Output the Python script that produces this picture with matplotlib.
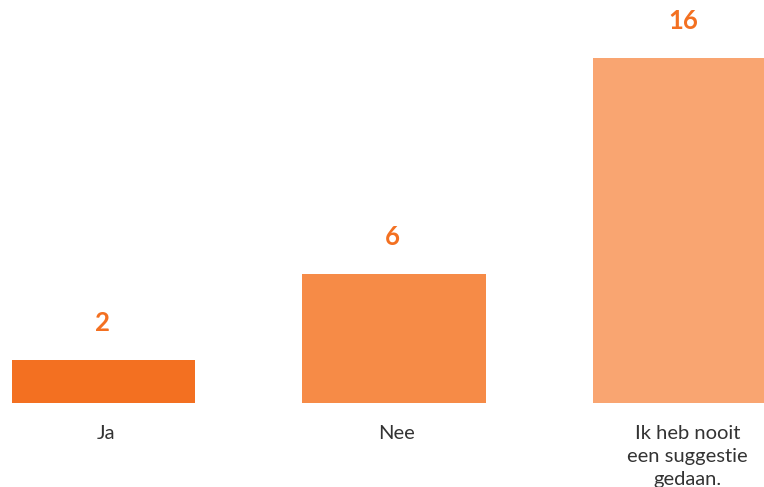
import matplotlib.pyplot as plt

categories = ['Ja', 'Nee', 'Ik heb nooit\neen suggestie\ngedaan.']
values = [2, 6, 16]
colors = ['#F37021', '#F68B47', '#F9A571']

plt.rcParams['font.family'] = ['Lato', 'DejaVu Sans']

fig = plt.figure(figsize=(7.64, 4.87), dpi=100)
ax = fig.add_axes([0, 84 / 487, 1, 403 / 487])

x = range(len(categories))
bars = ax.bar(x, values, width=0.63, color=colors)

ax.set_xlim(-103.5 / 290.5, (764 - 103.5) / 290.5)
ax.set_ylim(0, 403 / 21.56)

for b, v in zip(bars, values):
    ax.annotate(str(v), (b.get_x() + b.get_width() / 2, v),
                xytext=(-1, 26.5), textcoords='offset points',
                ha='center', va='center', fontsize=18.5, fontweight='bold',
                color='#F37021')

for i, c in enumerate(categories):
    ax.annotate(c, (i, 0), xytext=(2, -15.5), textcoords='offset points',
                ha='center', va='top', fontsize=14.5, color='#333333',
                linespacing=1.45)

ax.axis('off')
fig.savefig('out.png', dpi=100)
